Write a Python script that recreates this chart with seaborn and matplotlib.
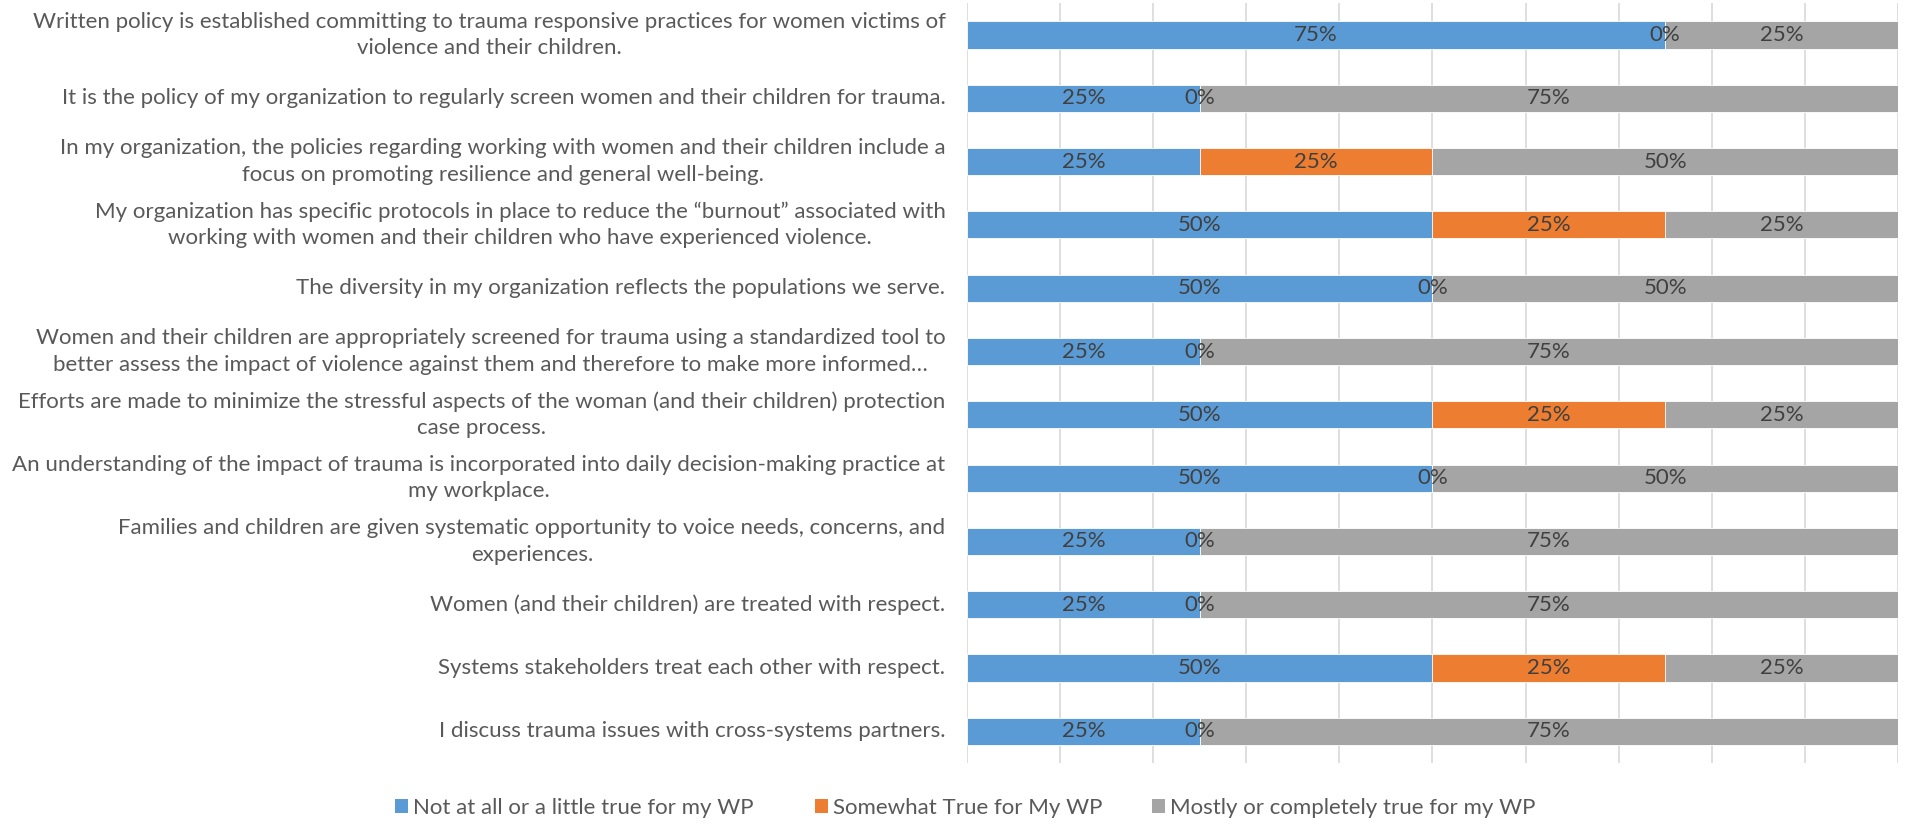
import matplotlib
matplotlib.use("Agg")
import matplotlib.pyplot as plt
from matplotlib.patches import Patch
import numpy as np
import pandas as pd
import seaborn as sns

statements = [
    "Written policy is established committing to trauma responsive practices for women victims of\nviolence and their children.",
    "It is the policy of my organization to regularly screen women and their children for trauma.",
    "In my organization, the policies regarding working with women and their children include a\nfocus on promoting resilience and general well-being.",
    "My organization has specific protocols in place to reduce the \u201cburnout\u201d associated with\nworking with women and their children who have experienced violence.",
    "The diversity in my organization reflects the populations we serve.",
    "Women and their children are appropriately screened for trauma using a standardized tool to\nbetter assess the impact of violence against them and therefore to make more informed\u2026",
    "Efforts are made to minimize the stressful aspects of the woman (and their children) protection\ncase process.",
    "An understanding of the impact of trauma is incorporated into daily decision-making practice at\nmy workplace.",
    "Families and children are given systematic opportunity to voice needs, concerns, and\nexperiences.",
    "Women (and their children) are treated with respect.",
    "Systems stakeholders treat each other with respect.",
    "I discuss trauma issues with cross-systems partners.",
]

series_names = [
    "Not at all or a little true for my WP",
    "Somewhat True for My WP",
    "Mostly or completely true for my WP",
]

not_true = [75, 25, 25, 50, 50, 25, 50, 50, 25, 25, 50, 25]
somewhat = [0, 0, 25, 25, 0, 0, 25, 0, 0, 0, 25, 0]
mostly = [25, 75, 50, 25, 50, 75, 25, 50, 75, 75, 25, 75]

colors = ["#5B9BD5", "#ED7D31", "#A5A5A5"]

sns.set_theme(style="white")
FONT = "Lato"
plt.rcParams["font.family"] = [FONT, "DejaVu Sans"]

df = pd.DataFrame({
    "statement": statements,
    "s1": not_true,
    "s2": somewhat,
    "s3": mostly,
})
df["c1"] = df["s1"] / 100
df["c2"] = (df["s1"] + df["s2"]) / 100
df["c3"] = (df["s1"] + df["s2"] + df["s3"]) / 100

fig = plt.figure(figsize=(19.05, 8.24), dpi=100)

# size the category font so the longest label line spans the space left of the axes
renderer = fig.canvas.get_renderer()
widths = []
for ln in (ln for s in statements for ln in s.split("\n")):
    t = fig.text(0, 0, ln, fontsize=20)
    widths.append(t.get_window_extent(renderer).width)
    t.remove()
label_size = 20 * 933 / max(widths)

ax = fig.add_axes([0.5076, 0.074, 0.4887, 0.922])

# stacked bars: draw the cumulative totals from the outermost layer inward
for col, color in zip(["c3", "c2", "c1"], colors[::-1]):
    sns.barplot(data=df, x=col, y="statement", orient="h", color=color,
                width=0.43, ax=ax, saturation=1, edgecolor="white", linewidth=0.6,
                zorder=2)

ax.set_xlim(0, 1)
ax.set_xticks(np.arange(0, 1.01, 0.1))
ax.xaxis.grid(True, color="#D9D9D9", linewidth=1.2, zorder=0)
ax.set_axisbelow(True)
ax.tick_params(axis="x", length=0, labelbottom=False)
ax.tick_params(axis="y", length=0, pad=15.5)
ax.set_xlabel("")
ax.set_ylabel("")
for s in ax.spines.values():
    s.set_visible(False)

for lbl in ax.get_yticklabels():
    lbl.set_fontsize(label_size)
    lbl.set_color("#595959")
    lbl.set_multialignment("center")
    lbl.set_linespacing(1.4)
    lbl.set_verticalalignment("center")

# value labels centred in each segment
for i in range(len(statements)):
    left = 0.0
    for vals in (not_true, somewhat, mostly):
        v = vals[i] / 100
        ax.text(left + v / 2, i, f"{vals[i]}%", ha="center", va="center",
                fontsize=label_size, color="#404040", zorder=5)
        left += v

# legend entries placed individually along the bottom
legend_x = [0.2073, 0.4278, 0.6047]
for h_color, name, x0 in zip(colors, series_names, legend_x):
    fig.legend([Patch(facecolor=h_color, edgecolor="none")], [name],
               loc="center left", bbox_to_anchor=(x0, 0.0194),
               frameon=False, fontsize=label_size, handlelength=0.6,
               handleheight=0.6, handletextpad=0.2, borderpad=0,
               borderaxespad=0, labelcolor="#595959")

fig.savefig("out.png", dpi=100)
